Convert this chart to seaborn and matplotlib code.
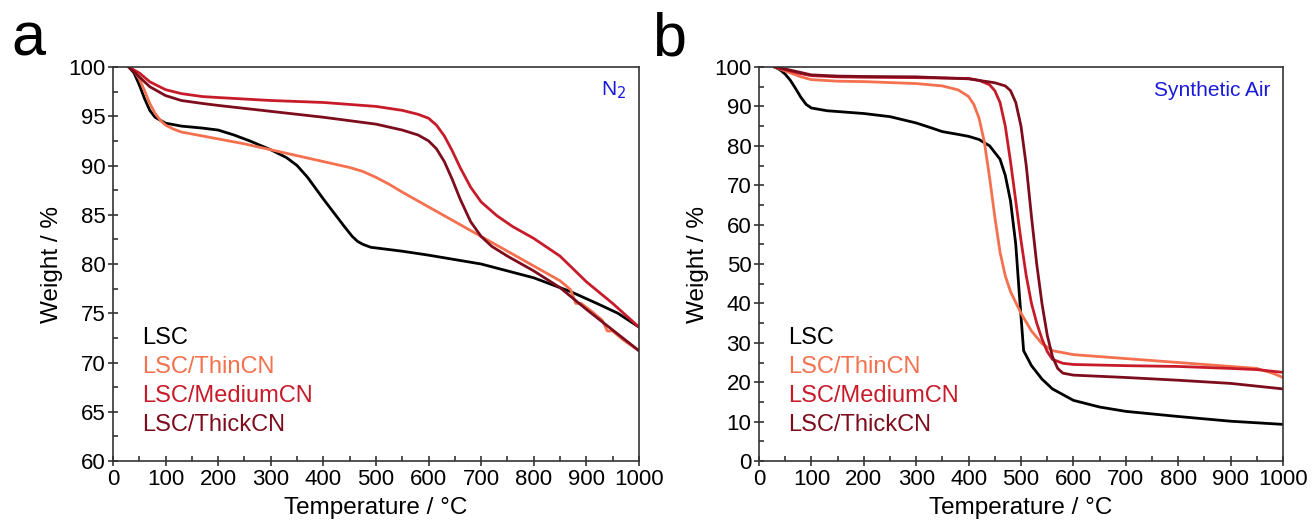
import matplotlib
matplotlib.use('Agg')
import matplotlib.pyplot as plt
import seaborn as sns
import pandas as pd
from matplotlib.ticker import MultipleLocator

# panel a (N2) readings: temperature / weight
a_lsc_t = [30, 40, 50, 60, 70, 80, 100, 130, 170, 200, 230, 260, 300, 330, 350, 370, 400, 420, 440, 455, 465, 475, 490, 550, 600, 700, 800, 870, 920, 960, 1000]
a_lsc_w = [100, 99.4, 98.2, 96.8, 95.6, 94.9, 94.3, 94.0, 93.8, 93.6, 93.1, 92.5, 91.6, 90.8, 90.0, 88.8, 86.6, 85.2, 83.8, 82.8, 82.3, 82.0, 81.7, 81.3, 80.9, 80.0, 78.6, 77.2, 76.0, 75.0, 73.6]
a_thin_t = [30, 40, 50, 60, 70, 80, 90, 100, 115, 130, 170, 200, 250, 300, 350, 400, 450, 475, 500, 525, 550, 600, 650, 700, 750, 800, 850, 870, 880, 890, 910, 930, 940, 950, 970, 1000]
a_thin_w = [100, 99.6, 98.8, 97.6, 96.3, 95.3, 94.6, 94.1, 93.7, 93.4, 93.0, 92.7, 92.2, 91.6, 91.0, 90.4, 89.8, 89.4, 88.8, 88.1, 87.3, 85.8, 84.3, 82.8, 81.3, 79.8, 78.3, 77.4, 76.0, 76.0, 75.2, 74.3, 73.2, 73.2, 72.3, 71.2]
a_med_t = [30, 50, 70, 100, 130, 170, 200, 300, 400, 500, 550, 580, 600, 615, 630, 645, 660, 680, 700, 730, 760, 800, 850, 900, 950, 1000]
a_med_w = [100, 99.4, 98.5, 97.7, 97.3, 97.0, 96.9, 96.6, 96.4, 96.0, 95.6, 95.2, 94.8, 94.1, 93.0, 91.5, 89.8, 87.8, 86.3, 84.9, 83.8, 82.6, 80.8, 78.2, 76.0, 73.6]
a_thick_t = [30, 50, 70, 100, 130, 170, 200, 300, 400, 500, 550, 580, 600, 615, 630, 645, 660, 680, 700, 720, 750, 800, 850, 900, 950, 1000]
a_thick_w = [100, 99.0, 98.0, 97.1, 96.6, 96.3, 96.1, 95.5, 94.9, 94.2, 93.6, 93.1, 92.5, 91.7, 90.4, 88.6, 86.6, 84.3, 82.8, 81.8, 80.8, 79.3, 77.6, 75.4, 73.3, 71.2]

# panel b (synthetic air) readings
b_lsc_t = [30, 40, 50, 60, 70, 80, 90, 100, 130, 200, 250, 300, 330, 350, 380, 400, 420, 440, 460, 470, 480, 490, 497, 505, 520, 540, 560, 600, 650, 700, 800, 900, 1000]
b_lsc_w = [100, 99.3, 98.2, 96.6, 94.5, 92.3, 90.5, 89.6, 88.9, 88.2, 87.4, 85.8, 84.5, 83.6, 82.9, 82.4, 81.6, 80.0, 76.6, 72.5, 66.0, 55.0, 42.0, 28.0, 24.2, 20.8, 18.3, 15.4, 13.7, 12.6, 11.3, 10.1, 9.3]
b_thin_t = [30, 50, 80, 100, 150, 200, 300, 350, 380, 400, 410, 420, 430, 440, 450, 460, 470, 480, 500, 520, 540, 560, 600, 700, 800, 900, 950, 980, 1000]
b_thin_w = [100, 99.0, 97.5, 96.8, 96.4, 96.3, 95.8, 95.2, 94.2, 92.5, 90.5, 87.0, 81.0, 72.0, 62.0, 53.0, 47.0, 43.0, 37.5, 33.0, 29.8, 28.0, 27.0, 26.0, 25.0, 24.0, 23.5, 22.3, 21.2]
b_med_t = [30, 50, 80, 100, 150, 200, 300, 400, 420, 440, 450, 460, 470, 480, 490, 500, 510, 520, 530, 540, 550, 560, 580, 600, 700, 800, 900, 950, 1000]
b_med_w = [100, 99.3, 98.3, 97.8, 97.5, 97.4, 97.3, 97.1, 96.6, 95.5, 94.0, 91.0, 85.0, 76.0, 66.0, 56.0, 47.0, 40.0, 35.0, 31.0, 27.8, 25.8, 24.8, 24.5, 24.2, 24.0, 23.5, 23.2, 22.5]
b_thick_t = [30, 50, 80, 100, 150, 200, 300, 400, 450, 470, 480, 490, 500, 510, 520, 530, 540, 550, 560, 570, 580, 600, 700, 800, 900, 1000]
b_thick_w = [100, 99.5, 98.6, 98.0, 97.7, 97.6, 97.5, 97.0, 96.0, 95.2, 94.0, 91.0, 85.0, 75.0, 62.0, 50.0, 40.0, 32.0, 26.5, 23.5, 22.3, 21.8, 21.2, 20.5, 19.7, 18.3]

names = ['LSC', 'LSC/ThinCN', 'LSC/MediumCN', 'LSC/ThickCN']
colors = ['#000000', '#f4704e', '#c81b2a', '#7d0c1c']

plt.rcParams['font.family'] = ['Liberation Sans', 'DejaVu Sans']

panel_a = [(a_lsc_t, a_lsc_w), (a_thin_t, a_thin_w), (a_med_t, a_med_w), (a_thick_t, a_thick_w)]
panel_b = [(b_lsc_t, b_lsc_w), (b_thin_t, b_thin_w), (b_med_t, b_med_w), (b_thick_t, b_thick_w)]


def make_df(series):
    frames = []
    for name, (t, w) in zip(names, series):
        frames.append(pd.DataFrame({'T': t, 'W': w, 'sample': name}))
    return pd.concat(frames, ignore_index=True)


fig = plt.figure(figsize=(13.12, 5.31), dpi=100)
ax_a = fig.add_axes([0.0861, 0.1318, 0.4009, 0.742])
ax_b = fig.add_axes([0.5785, 0.1318, 0.3994, 0.742])

palette = dict(zip(names, colors))
for ax, series in [(ax_a, panel_a), (ax_b, panel_b)]:
    df = make_df(series)
    sns.lineplot(data=df, x='T', y='W', hue='sample', palette=palette, sort=False,
                 estimator=None, linewidth=2, legend=False, ax=ax)
    ax.set_xlim(0, 1000)
    ax.xaxis.set_major_locator(MultipleLocator(100))
    ax.xaxis.set_minor_locator(MultipleLocator(50))
    ax.set_xlabel('Temperature / °C', fontsize=17.5, labelpad=5)
    ax.set_ylabel('Weight / %', fontsize=17.5, labelpad=4)
    ax.tick_params(which='both', labelsize=16, top=False, right=False, width=1.2, color='#333333')
    ax.tick_params(which='major', direction='inout', length=7, pad=2)
    ax.tick_params(which='minor', direction='in', length=3.5)
    for sp in ax.spines.values():
        sp.set_linewidth(1.2)
        sp.set_color('#333333')
    # colored text legend
    for i, (name, c) in enumerate(zip(names, colors)):
        ax.text(0.055, 0.312 - i * 0.0736, name, color=c, fontsize=17, transform=ax.transAxes, va='center')

ax_a.set_ylim(60, 100)
ax_a.yaxis.set_major_locator(MultipleLocator(5))
ax_a.yaxis.set_minor_locator(MultipleLocator(2.5))
ax_a.text(0.975, 0.94, 'N$_2$', color='#1a1adc', fontsize=15, transform=ax_a.transAxes, ha='right', va='center')

ax_b.set_ylim(0, 100)
ax_b.yaxis.set_major_locator(MultipleLocator(10))
ax_b.yaxis.set_minor_locator(MultipleLocator(5))
ax_b.text(0.975, 0.94, 'Synthetic Air', color='#1a1adc', fontsize=15, transform=ax_b.transAxes, ha='right', va='center')

fig.text(0.009, 0.925, 'a', fontsize=44, va='center')
fig.text(0.497, 0.925, 'b', fontsize=44, va='center')

fig.savefig('out.png', dpi=100)
